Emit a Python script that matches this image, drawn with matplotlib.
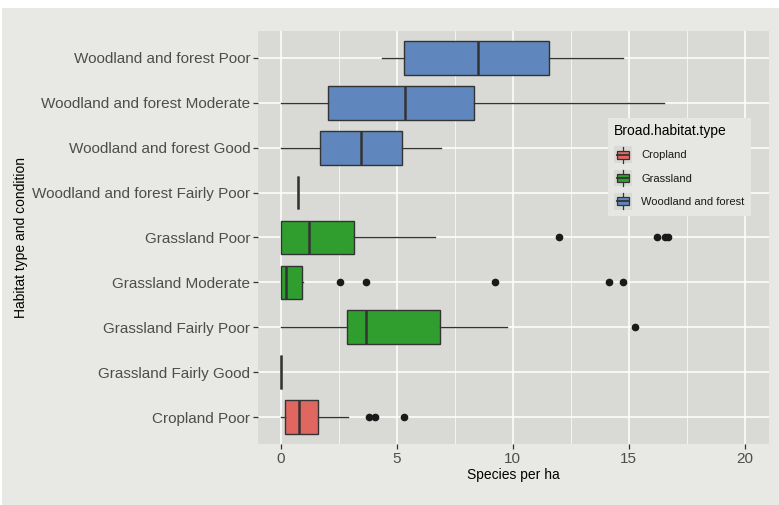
import matplotlib
matplotlib.use("Agg")
from matplotlib import pyplot as plt
from matplotlib.legend_handler import HandlerBase
from matplotlib.patches import Rectangle
from matplotlib.lines import Line2D

plt.rcParams["font.family"] = ["Liberation Sans", "DejaVu Sans"]

# categories, bottom to top
groups = [
    "Cropland Poor",
    "Grassland Fairly Good",
    "Grassland Fairly Poor",
    "Grassland Moderate",
    "Grassland Poor",
    "Woodland and forest Fairly Poor",
    "Woodland and forest Good",
    "Woodland and forest Moderate",
    "Woodland and forest Poor",
]
habitat = ["Cropland", "Grassland", "Grassland", "Grassland", "Grassland",
           "Woodland and forest", "Woodland and forest", "Woodland and forest",
           "Woodland and forest"]

# box statistics (species per ha)
whis_lo = [0.0, 0.0, 0.0, 0.0, 0.0, 0.75, 0.0, 0.0, 4.38]
q1 = [0.2, 0.0, 2.87, 0.0, 0.0, 0.75, 1.71, 2.04, 5.31]
median = [0.78, 0.0, 3.66, 0.23, 1.22, 0.75, 3.46, 5.34, 8.52]
q3 = [1.59, 0.0, 6.85, 0.9, 3.16, 0.75, 5.21, 8.35, 11.58]
whis_hi = [2.91, 0.0, 9.74, 0.95, 6.65, 0.75, 6.91, 16.54, 14.77]
outliers = [
    [3.79, 4.06, 5.3],
    [],
    [15.27],
    [2.56, 3.66, 9.24, 14.17, 14.77],
    [12.0, 16.2, 16.55, 16.68],
    [],
    [],
    [],
    [],
]

palette = {"Cropland": "#e0675f", "Grassland": "#2f9e2f", "Woodland and forest": "#5f87bd"}
fig_bg = "#e8e9e5"
panel_bg = "#d9dad5"
ink = "#333333"

fig = plt.figure(figsize=(7.79, 5.05), dpi=100, facecolor="white")
fig.patches.append(Rectangle((2 / 779, 0), 777 / 779, 497 / 505,
                             transform=fig.transFigure, facecolor=fig_bg,
                             edgecolor="none", zorder=-10))

ax = fig.add_axes([258 / 779, 61 / 505, 511 / 779, 413 / 505])
ax.set_facecolor(panel_bg)

stats = []
for i, name in enumerate(groups):
    stats.append({
        "label": name, "whislo": whis_lo[i], "q1": q1[i], "med": median[i],
        "q3": q3[i], "whishi": whis_hi[i], "fliers": outliers[i],
    })

positions = list(range(1, len(groups) + 1))
art = ax.bxp(stats, positions=positions, widths=0.75, orientation="horizontal",
             patch_artist=True, showcaps=False, zorder=3,
             boxprops=dict(edgecolor=ink, linewidth=1.0),
             medianprops=dict(color=ink, linewidth=1.8),
             whiskerprops=dict(color=ink, linewidth=1.0),
             flierprops=dict(marker="o", markerfacecolor="#1a1a1a",
                             markeredgecolor="#1a1a1a", markersize=4.5))
for box, h in zip(art["boxes"], habitat):
    box.set_facecolor(palette[h])

ax.set_xlim(-0.98, 21.05)
ax.set_ylim(0.4, 9.6)
ax.set_xticks([0, 5, 10, 15, 20])
ax.set_xticks([2.5, 7.5, 12.5, 17.5], minor=True)
ax.set_yticks(positions)
ax.set_yticklabels(groups)
ax.tick_params(axis="both", which="major", labelsize=11, labelcolor="#4d4d4d",
               color=ink, length=3.5, width=0.9, pad=2)
ax.tick_params(axis="x", which="minor", length=0)
ax.grid(True, which="major", color="white", linewidth=1.1, zorder=0)
ax.grid(True, which="minor", axis="x", color="white", linewidth=0.5, zorder=0)
ax.set_axisbelow(True)
for s in ax.spines.values():
    s.set_visible(False)

ax.set_xlabel("Species per ha", fontsize=10, color="black", labelpad=2)
ax.set_ylabel("Habitat type and condition", fontsize=10, color="black", labelpad=3)


class BoxKey(HandlerBase):
    # small vertical boxplot glyph, like the ggplot legend key
    def create_artists(self, legend, orig_handle, xdescent, ydescent,
                       width, height, fontsize, trans):
        cx = -xdescent + width / 2
        y0 = -ydescent
        bg = Rectangle((-xdescent, y0), width, height, facecolor=panel_bg,
                       edgecolor="none", transform=trans)
        whisk = Line2D([cx, cx], [y0 + 0.05 * height, y0 + 0.95 * height],
                       color=ink, linewidth=0.9, transform=trans)
        box = Rectangle((-xdescent + 0.15 * width, y0 + 0.25 * height),
                        0.7 * width, 0.5 * height,
                        facecolor=orig_handle.get_facecolor(), edgecolor=ink,
                        linewidth=0.9, transform=trans)
        med = Line2D([-xdescent + 0.15 * width, -xdescent + 0.85 * width],
                     [y0 + 0.5 * height] * 2, color=ink, linewidth=1.3,
                     transform=trans)
        return [bg, whisk, box, med]


handles = [Rectangle((0, 0), 1, 1, facecolor=palette[k]) for k in palette]
leg = ax.legend(handles, list(palette.keys()), title="Broad.habitat.type",
                handler_map={Rectangle: BoxKey()}, loc="upper left",
                bbox_to_anchor=(608 / 779, 1 - 118 / 505),
                bbox_transform=fig.transFigure, fontsize=8, title_fontsize=10,
                frameon=True, fancybox=False, edgecolor="none",
                facecolor="#e6e7e3", framealpha=1, handlelength=1.6,
                handleheight=1.97, labelspacing=0.55, handletextpad=0.85,
                borderpad=0.55, borderaxespad=0)
leg._legend_box.align = "left"
leg._legend_box.sep = 6
for t in leg.get_texts():
    t.set_color("#1a1a1a")

fig.savefig("out.png", dpi=100, facecolor=fig.get_facecolor())
